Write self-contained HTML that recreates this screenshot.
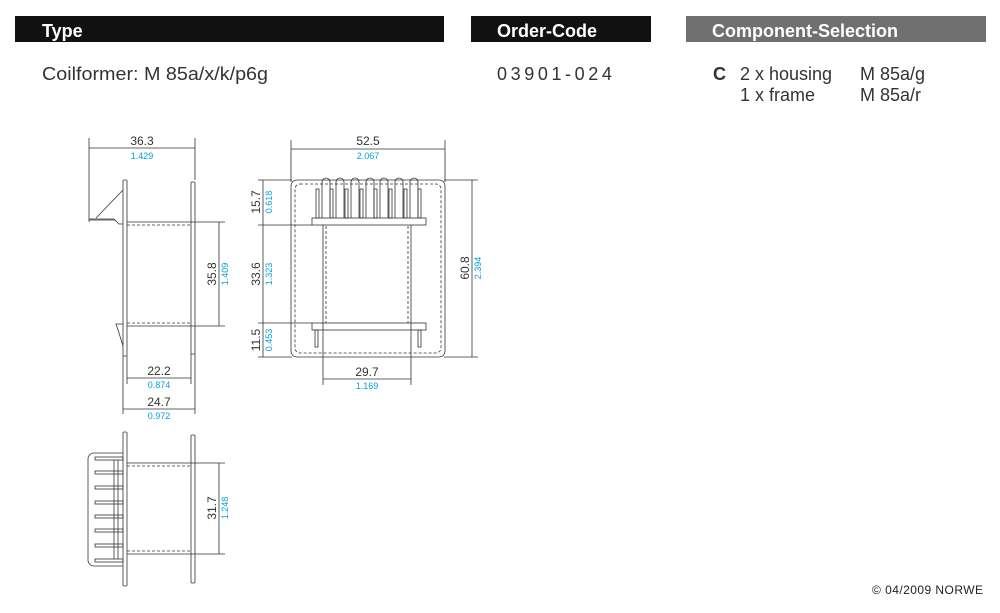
<!DOCTYPE html>
<html><head><meta charset="utf-8"><style>
html,body{margin:0;padding:0;background:#fff;}
svg{display:block;font-family:"Liberation Sans",sans-serif;}
</style></head><body>
<svg width="1000" height="613" viewBox="0 0 1000 613" xmlns="http://www.w3.org/2000/svg">
<rect x="15" y="16" width="429" height="26" fill="#111"/>
<rect x="471" y="16" width="180" height="26" fill="#111"/>
<rect x="686" y="16" width="300" height="26" fill="#707070"/>
<g fill="#fff" font-weight="bold" font-size="18">
<text x="42" y="37">Type</text>
<text x="497" y="37">Order-Code</text>
<text x="712" y="37">Component-Selection</text>
</g>
<g fill="#333" font-size="18">
<text x="42" y="80" textLength="226" lengthAdjust="spacingAndGlyphs">Coilformer:  M 85a/x/k/p6g</text>
<text x="497" y="80" letter-spacing="3.6">03901-024</text>
<text x="713" y="80" font-weight="bold">C</text>
<text x="740" y="80">2 x housing</text>
<text x="860" y="80">M 85a/g</text>
<text x="740" y="101">1 x frame</text>
<text x="860" y="101">M 85a/r</text>
</g>
<text x="872" y="594" font-size="12" fill="#222" textLength="111">© 04/2009 NORWE</text>

<g stroke="#333" stroke-width="0.8" fill="none">
<!-- side view -->
<line x1="89" y1="138" x2="89" y2="222"/><line x1="195" y1="138" x2="195" y2="180"/>
<line x1="89" y1="148" x2="195" y2="148"/>
<rect x="123" y="180" width="4" height="176" rx="1"/>
<rect x="191" y="182" width="4" height="172" rx="1"/>
<line x1="127" y1="222" x2="225" y2="222"/><line x1="127" y1="326" x2="225" y2="326"/>
<line x1="127" y1="225" x2="191" y2="225" stroke-dasharray="3,2"/>
<line x1="127" y1="323" x2="191" y2="323" stroke-dasharray="3,2"/>
<polyline points="89,219 114,219 119,224 123,224"/>
<line x1="89" y1="220" x2="115" y2="220"/>
<line x1="96" y1="218" x2="123" y2="190"/>
<polyline points="123,324 116,324 119,333 123,346"/>
<line x1="219" y1="222" x2="219" y2="326"/>
<line x1="123" y1="356" x2="123" y2="414"/><line x1="195" y1="354" x2="195" y2="414"/>
<line x1="127" y1="356" x2="127" y2="384"/><line x1="191" y1="354" x2="191" y2="384"/>
<line x1="127" y1="378" x2="191" y2="378"/>
<line x1="123" y1="409" x2="195" y2="409"/>

<!-- front view -->
<line x1="291" y1="140" x2="291" y2="182"/><line x1="445" y1="140" x2="445" y2="182"/>
<line x1="291" y1="149" x2="445" y2="149"/>
<rect x="291" y="180" width="154" height="177" rx="6"/>
<rect x="295" y="184" width="146" height="169" rx="5" stroke-dasharray="3,2"/>
<g>
<rect x="316" y="189" width="3" height="29"/><rect x="330" y="189" width="3" height="29"/>
<rect x="345" y="189" width="3" height="29"/><rect x="360" y="189" width="3" height="29"/>
<rect x="374" y="189" width="3" height="29"/><rect x="389" y="189" width="3" height="29"/>
<rect x="404" y="189" width="3" height="29"/><rect x="418" y="189" width="3" height="29"/>
<path d="M322 182 a4 4 0 0 1 8 0 M336 182 a4 4 0 0 1 8 0 M351 182 a4 4 0 0 1 8 0 M366 182 a4 4 0 0 1 8 0 M380 182 a4 4 0 0 1 8 0 M395 182 a4 4 0 0 1 8 0 M410 182 a4 4 0 0 1 8 0"/>
<line x1="322" y1="182" x2="322" y2="218"/><line x1="330" y1="182" x2="330" y2="218"/>
<line x1="336" y1="182" x2="336" y2="218"/><line x1="344" y1="182" x2="344" y2="218"/>
<line x1="351" y1="182" x2="351" y2="218"/><line x1="359" y1="182" x2="359" y2="218"/>
<line x1="366" y1="182" x2="366" y2="218"/><line x1="374" y1="182" x2="374" y2="218"/>
<line x1="380" y1="182" x2="380" y2="218"/><line x1="388" y1="182" x2="388" y2="218"/>
<line x1="395" y1="182" x2="395" y2="218"/><line x1="403" y1="182" x2="403" y2="218"/>
<line x1="410" y1="182" x2="410" y2="218"/><line x1="418" y1="182" x2="418" y2="218"/>
</g>
<rect x="312" y="218" width="114" height="7"/>
<rect x="312" y="323" width="114" height="7"/>
<line x1="323" y1="225" x2="323" y2="385"/><line x1="411" y1="225" x2="411" y2="385"/>
<line x1="326" y1="226" x2="326" y2="323" stroke-dasharray="3,2"/>
<line x1="408" y1="226" x2="408" y2="323" stroke-dasharray="3,2"/>
<rect x="315" y="330" width="3" height="17"/><rect x="418" y="330" width="3" height="17"/>
<line x1="258" y1="180" x2="292" y2="180"/><line x1="258" y1="357" x2="292" y2="357"/>
<line x1="258" y1="225" x2="312" y2="225"/><line x1="258" y1="323" x2="312" y2="323"/>
<line x1="263" y1="180" x2="263" y2="357"/>
<line x1="444" y1="180" x2="478" y2="180"/><line x1="444" y1="357" x2="478" y2="357"/>
<line x1="472" y1="180" x2="472" y2="357"/>
<line x1="323" y1="379" x2="411" y2="379"/>

<!-- bottom view -->
<rect x="123" y="432" width="4" height="154" rx="1"/>
<rect x="191" y="435" width="4" height="148" rx="1"/>
<line x1="127" y1="463" x2="225" y2="463"/><line x1="127" y1="554" x2="225" y2="554"/>
<line x1="127" y1="466" x2="191" y2="466" stroke-dasharray="3,2"/>
<line x1="127" y1="551" x2="191" y2="551" stroke-dasharray="3,2"/>
<path d="M123 453 H94 a6 6 0 0 0 -6 6 V560 a6 6 0 0 0 6 6 H123"/>
<g>
<rect x="95" y="457" width="28" height="3"/><rect x="95" y="471" width="28" height="3"/>
<rect x="95" y="486" width="28" height="3"/><rect x="95" y="501" width="28" height="3"/>
<rect x="95" y="515" width="28" height="3"/><rect x="95" y="529" width="28" height="3"/>
<rect x="95" y="544" width="28" height="3"/><rect x="95" y="559" width="28" height="3"/>
</g>
<line x1="114" y1="460" x2="114" y2="559"/><line x1="118" y1="460" x2="118" y2="559"/>
<line x1="219" y1="463" x2="219" y2="554"/>
</g>

<g font-size="12" fill="#333" text-anchor="middle">
<text x="142" y="145">36.3</text>
<text x="368" y="145">52.5</text>
<text x="159" y="375">22.2</text>
<text x="159" y="406">24.7</text>
<text x="367" y="376">29.7</text>
<text transform="translate(216,274) rotate(-90)">35.8</text>
<text transform="translate(260,202) rotate(-90)">15.7</text>
<text transform="translate(260,274) rotate(-90)">33.6</text>
<text transform="translate(260,340) rotate(-90)">11.5</text>
<text transform="translate(469,268) rotate(-90)">60.8</text>
<text transform="translate(216,508) rotate(-90)">31.7</text>
</g>
<g font-size="9" fill="#00a0e0" text-anchor="middle">
<text x="142" y="159">1.429</text>
<text x="368" y="159">2.067</text>
<text x="159" y="388">0.874</text>
<text x="159" y="419">0.972</text>
<text x="367" y="389">1.169</text>
<text transform="translate(228,274) rotate(-90)">1.409</text>
<text transform="translate(272,202) rotate(-90)">0.618</text>
<text transform="translate(272,274) rotate(-90)">1.323</text>
<text transform="translate(272,340) rotate(-90)">0.453</text>
<text transform="translate(481,268) rotate(-90)">2.394</text>
<text transform="translate(228,508) rotate(-90)">1.248</text>
</g>
</svg>
</body></html>
